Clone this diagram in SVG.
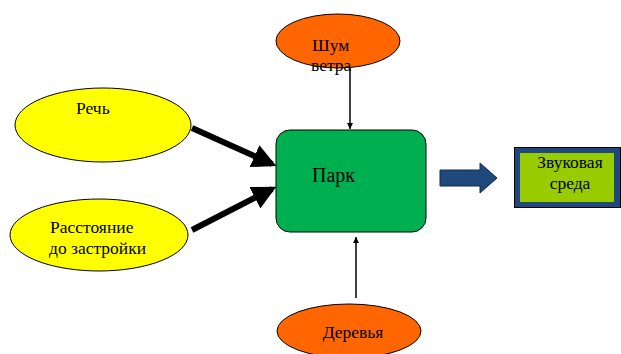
<svg xmlns="http://www.w3.org/2000/svg" width="621" height="354" viewBox="0 0 621 354">
<defs>
<style>
text{font-family:"Liberation Serif","Times New Roman",serif;font-size:17.5px;fill:#000}
.or{fill:#ff6600;stroke:#000;stroke-width:1}
.ye{fill:#ffff00;stroke:#000;stroke-width:1}
.thin{stroke:#000;stroke-width:1.5;fill:none}
.thick{stroke:#000;stroke-width:6;fill:none}
</style>
<marker id="ah" viewBox="0 0 10 10" refX="10" refY="5" markerWidth="6" markerHeight="7" markerUnits="userSpaceOnUse" orient="auto"><path d="M0,0 L10,5 L0,10 z" fill="#000"/></marker>
<marker id="ahb" viewBox="0 0 10 10" refX="8" refY="5" markerWidth="4" markerHeight="4" orient="auto"><path d="M0,0 L10,5 L0,10 z" fill="#000"/></marker>
</defs>
<rect width="621" height="354" fill="#fff"/>
<g id="connectors">
<line class="thin" x1="350" y1="68" x2="350" y2="129" marker-end="url(#ah)"/>
<line class="thin" x1="356" y1="298" x2="356" y2="237" marker-end="url(#ah)"/>
<line class="thick" x1="192" y1="128" x2="272" y2="164" marker-end="url(#ahb)"/>
<line class="thick" x1="192" y1="230" x2="272" y2="189" marker-end="url(#ahb)"/>
<path d="M440,170 H480 V163 L497,178 L480,193 V186 H440 z" fill="#1f497d" stroke="#0f2a4a" stroke-width="1"/>
</g>
<g id="shum">
<ellipse class="or" cx="338" cy="41" rx="62" ry="27"/>
<text x="312" y="51">Шум</text>
<text x="311" y="71">ветра</text>
</g>
<g id="rech">
<ellipse class="ye" cx="103" cy="125" rx="88" ry="37"/>
<text x="76" y="114">Речь</text>
</g>
<g id="rasst">
<ellipse class="ye" cx="99" cy="235" rx="89" ry="36"/>
<text x="50" y="233">Расстояние</text>
<text x="49" y="254">до застройки</text>
</g>
<g id="park">
<rect x="276" y="130" width="150" height="102" rx="14" fill="#00b050" stroke="#000" stroke-width="1"/>
<text x="312" y="182" style="font-size:20px">Парк</text>
</g>
<g id="sreda">
<rect x="514.5" y="147.5" width="106" height="60" fill="#1f497d" stroke="#000" stroke-width="1"/>
<rect x="520" y="153" width="94" height="49" fill="#99cc00"/>
<text x="570" y="168" text-anchor="middle">Звуковая</text>
<text x="570" y="189" text-anchor="middle">среда</text>
</g>
<g id="derevya">
<ellipse class="or" cx="349" cy="331" rx="72" ry="27"/>
<text x="353" y="338" text-anchor="middle">Деревья</text>
</g>
</svg>
